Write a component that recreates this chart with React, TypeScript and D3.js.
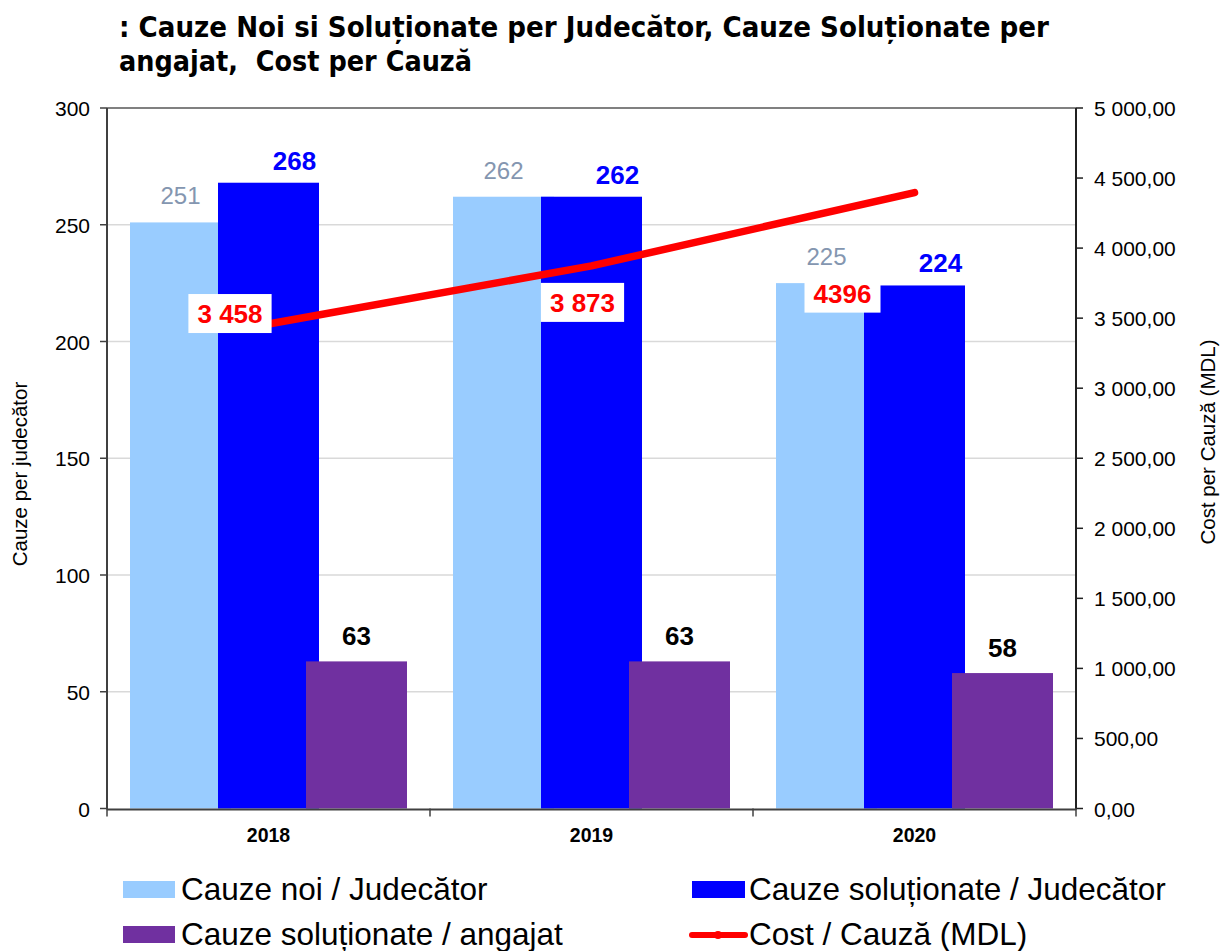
import React from "react";
import * as d3 from "d3";

const years = ["2018", "2019", "2020"];
const noiPerJudecator = [251, 262, 225];
const solPerJudecator = [268, 262, 224];
const solPerAngajat = [63, 63, 58];
const costPerCauza = [3458, 3873, 4396];
const costLabels = ["3 458", "3 873", "4396"];
const leftTicks = [0, 50, 100, 150, 200, 250, 300];
const rightTicks = [0, 500, 1000, 1500, 2000, 2500, 3000, 3500, 4000, 4500, 5000];

const W = 1221, H = 951;
const L = 107, R = 1076, T = 108, B = 808.5;
const barW = 101, barStep = 88;
const costLabelOffsets = [[-38.5, -1], [-9, 46], [-72, 110]];

const ARIAL = "'Liberation Sans', Arial, sans-serif";
const TITLE = "'DejaVu Sans', Verdana, sans-serif";

export default function App() {
  const x = d3.scaleBand().domain(years).range([L, R]).padding(0);
  const yL = d3.scaleLinear().domain([0, 300]).range([B, T]);
  const yR = d3.scaleLinear().domain([0, 5000]).range([B, T]);
  const groupW = 2 * barStep + barW;
  const barX = (yr: string, k: number) => (x(yr) as number) + (x.bandwidth() - groupW) / 2 + k * barStep;
  const cx = (yr: string) => (x(yr) as number) + x.bandwidth() / 2;
  const line = d3.line<number>().x((_, i) => cx(years[i])).y((d) => yR(d));
  const fmtR = (v: number) => d3.format(",.2f")(v).replace(/,/g, " ").replace(".", ",");

  const series = [
    { vals: noiPerJudecator, color: "#99ccff", label: "#8496b0", weight: "normal", size: 24, dx: 0, off: 18 },
    { vals: solPerJudecator, color: "#0000ff", label: "#0000ff", weight: "bold", size: 26, dx: 26, off: 13 },
    { vals: solPerAngajat, color: "#7030a0", label: "#000000", weight: "bold", size: 26, dx: 0, off: 16 },
  ];

  const textW = (s: string) => s.split("").reduce((a, c) => a + (c === " " ? 7.2 : 14.5), 0);

  return (
    <svg width={W} height={H} style={{ position: "absolute", left: 0, top: 0, background: "#fff" }}>
      <text x={119} y={37} fontFamily={TITLE} fontWeight="bold" fontSize={29} textLength={930} lengthAdjust="spacingAndGlyphs">
        : Cauze Noi si Soluționate per Judecător, Cauze Soluționate per
      </text>
      <text x={119} y={71} fontFamily={TITLE} fontWeight="bold" fontSize={29} textLength={353} lengthAdjust="spacingAndGlyphs" style={{ whiteSpace: "pre" }}>
        {"angajat,  Cost per Cauză"}
      </text>

      {/* gridlines */}
      {leftTicks.filter((t) => t > 0 && t < 300).map((t) => (
        <line key={t} x1={L} x2={R} y1={yL(t)} y2={yL(t)} stroke="#d9d9d9" strokeWidth={1.5} />
      ))}
      <line x1={L} x2={R} y1={T} y2={T} stroke="#808080" strokeWidth={2} />

      {/* bars */}
      {series.map((s, k) =>
        years.map((yr, i) => (
          <rect key={`${k}-${yr}`} x={barX(yr, k)} y={yL(s.vals[i])} width={barW} height={B - yL(s.vals[i])} fill={s.color} />
        ))
      )}

      {/* axes */}
      <line x1={L} x2={L} y1={T} y2={B + 1} stroke="#404040" strokeWidth={2} />
      <line x1={R} x2={R} y1={T} y2={B + 1} stroke="#202020" strokeWidth={2} />
      <line x1={L} x2={R} y1={B + 1} y2={B + 1} stroke="#404040" strokeWidth={2} />
      {leftTicks.map((t) => (
        <g key={t}>
          <line x1={L - 7} x2={L} y1={yL(t)} y2={yL(t)} stroke="#404040" strokeWidth={1.5} />
          <text x={90} y={yL(t) + 8} textAnchor="end" fontFamily={ARIAL} fontSize={21}>{t}</text>
        </g>
      ))}
      {rightTicks.map((t) => (
        <g key={t}>
          <line x1={R} x2={R + 7} y1={yR(t)} y2={yR(t)} stroke="#202020" strokeWidth={1.5} />
          <text x={1094} y={yR(t) + 8} fontFamily={ARIAL} fontSize={21}>{fmtR(t)}</text>
        </g>
      ))}
      {[...years.map((yr) => x(yr) as number), R].map((v, i) => (
        <line key={i} x1={v} x2={v} y1={B} y2={B + 8} stroke="#404040" strokeWidth={1.5} />
      ))}
      {years.map((yr) => (
        <text key={yr} x={cx(yr)} y={842} textAnchor="middle" fontFamily={ARIAL} fontWeight="bold" fontSize={19.5}>{yr}</text>
      ))}
      <text transform={`translate(27,474) rotate(-90)`} textAnchor="middle" fontFamily={ARIAL} fontSize={20.5}>Cauze per judecător</text>
      <text transform={`translate(1215,442) rotate(-90)`} textAnchor="middle" fontFamily={ARIAL} fontSize={20.5}>Cost per Cauză (MDL)</text>

      {/* bar labels */}
      {series.map((s, k) =>
        years.map((yr, i) => (
          <text key={`l${k}-${yr}`} x={barX(yr, k) + barW / 2 + s.dx} y={yL(s.vals[i]) - s.off} textAnchor="middle"
            fontFamily={ARIAL} fontWeight={s.weight} fontSize={s.size} fill={s.label}>{s.vals[i]}</text>
        ))
      )}

      {/* cost line */}
      <path d={line(costPerCauza) as string} fill="none" stroke="#ff0000" strokeWidth={7.5} strokeLinecap="round" strokeLinejoin="round" />
      {costPerCauza.map((v, i) => {
        const px = cx(years[i]) + costLabelOffsets[i][0];
        const py = yR(v) + costLabelOffsets[i][1];
        const w = textW(costLabels[i]) + 18;
        return (
          <g key={i}>
            <rect x={px - w / 2} y={py - 29} width={w} height={39} fill="#fff" />
            <text x={px} y={py} textAnchor="middle" fontFamily={ARIAL} fontWeight="bold" fontSize={26} fill="#ff0000">{costLabels[i]}</text>
          </g>
        );
      })}

      {/* legend */}
      <rect x={123} y={881} width={52} height={17} fill="#99ccff" />
      <text x={181} y={900} fontFamily={ARIAL} fontSize={31.5}>Cauze noi / Judecător</text>
      <rect x={692} y={881} width={53} height={17} fill="#0000ff" />
      <text x={749} y={900} fontFamily={ARIAL} fontSize={31.5}>Cauze soluționate / Judecător</text>
      <rect x={123} y={926} width={52} height={17} fill="#7030a0" />
      <text x={181} y={945} fontFamily={ARIAL} fontSize={31.5}>Cauze soluționate / angajat</text>
      <line x1={692} x2={745} y1={935} y2={935} stroke="#ff0000" strokeWidth={6} strokeLinecap="round" />
      <circle cx={718} cy={935} r={4} fill="#ff0000" />
      <text x={749} y={945} fontFamily={ARIAL} fontSize={31.5}>Cost / Cauză (MDL)</text>
    </svg>
  );
}
